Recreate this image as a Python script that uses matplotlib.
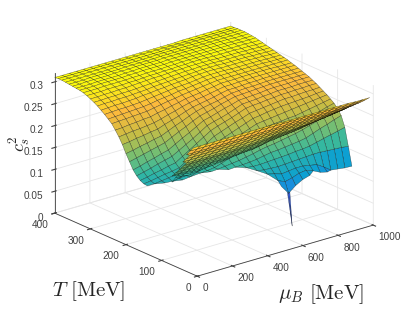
import matplotlib
matplotlib.use('Agg')
import matplotlib.pyplot as plt
from matplotlib.colors import LinearSegmentedColormap, Normalize
from mpl_toolkits.mplot3d.art3d import Poly3DCollection

plt.rcParams['font.family'] = ['Liberation Sans', 'DejaVu Sans']
plt.rcParams['mathtext.fontset'] = 'cm'
plt.rcParams['grid.color'] = '#e6e6e6'
plt.rcParams['grid.linewidth'] = 0.6

n = float('nan')

mu_values = [0, 40, 80, 120, 160, 200, 240, 280, 320, 360, 400, 440, 480, 520, 560, 600, 640, 680, 720, 760, 800, 840, 880, 920, 960, 1000]

# c_s^2 x 1000, main sheet, rows go with t_main
t_main = [400, 390, 380, 370, 360, 350, 340, 330, 320, 310, 300, 290, 280, 270, 260, 250, 240, 230, 220, 210, 200, 190, 180, 170, 160, 150, 140, 130, 120, 110, 100, 90, 80, 70, 60, 50, 40]
z_main = [
    [310,310,310,310,310,310,310,310,310,310,310,310,310,310,310,310,310,310,311,311,311,311,311,311,311,311],
    [311,311,311,311,311,311,311,311,311,311,311,311,311,311,311,311,311,311,311,311,311,311,311,311,311,311],
    [311,311,311,311,311,311,311,311,311,311,311,311,311,311,311,312,312,312,312,312,312,312,312,312,312,312],
    [310,310,310,310,310,310,310,311,311,311,311,311,311,312,312,312,312,312,312,312,312,312,312,312,312,312],
    [309,309,309,310,310,310,310,310,311,311,311,311,311,312,312,312,312,312,312,312,312,312,312,312,312,312],
    [308,308,309,309,309,309,310,310,310,311,311,311,311,312,312,312,312,312,312,312,312,312,312,311,311,311],
    [307,307,307,308,308,308,308,309,309,310,310,310,310,311,311,311,311,311,311,311,311,311,310,310,310,310],
    [306,306,306,307,307,307,307,308,308,309,309,309,309,310,310,310,310,310,310,310,310,310,310,309,309,309],
    [304,304,304,305,305,305,305,306,306,307,307,307,308,308,309,309,309,309,309,309,309,308,308,308,307,307],
    [301,301,301,302,302,302,303,303,304,305,305,306,306,307,307,308,308,308,307,307,307,307,306,306,305,305],
    [297,297,298,298,299,299,300,301,302,303,303,304,305,305,306,306,306,306,305,305,305,305,304,304,303,303],
    [293,293,294,294,295,295,296,297,298,299,300,301,302,303,303,304,304,304,303,303,303,303,302,302,301,301],
    [288,289,289,290,290,291,292,293,295,296,297,298,299,300,301,302,302,302,301,301,301,301,300,300,299,299],
    [282,283,284,284,285,286,288,289,291,292,294,295,296,298,299,300,300,299,299,299,299,299,298,298,297,297],
    [276,277,278,278,279,280,282,284,286,288,290,291,292,294,296,297,297,297,296,296,296,296,296,295,295,295],
    [269,270,271,272,273,274,276,279,281,283,286,287,289,291,293,294,294,294,294,294,294,294,294,293,293,293],
    [262,263,264,265,266,267,270,273,276,278,281,283,285,287,289,291,291,291,291,291,291,291,291,291,291,291],
    [251,252,254,255,257,258,262,265,269,272,276,278,280,283,285,288,288,288,289,289,289,289,289,288,288,288],
    [239,241,243,244,246,248,252,257,261,266,270,273,275,278,281,284,284,285,285,286,286,286,286,286,286,286],
    [225,227,230,232,235,237,243,248,253,259,264,267,270,273,277,280,280,281,282,282,283,283,283,283,283,283],
    [208,211,215,218,222,225,232,239,245,252,258,262,265,268,272,276,277,278,278,279,280,280,280,280,280,280],
    [193,197,201,205,209,213,221,229,236,244,251,255,259,264,268,272,273,274,275,276,277,277,277,277,277,277],
    [178,182,187,191,196,200,209,218,226,235,244,248,253,258,262,267,268,269,270,272,273,273,273,274,274,274],
    [168,172,176,181,185,189,198,207,216,226,236,241,245,250,256,262,263,264,266,267,269,269,269,270,270,270],
    [161,164,168,171,175,178,188,198,208,218,228,234,239,244,250,256,258,259,261,262,264,264,265,265,266,266],
    [157,159,162,165,167,170,180,190,199,209,219,225,231,237,242,248,250,252,254,256,258,258,259,260,260,261],
    [156,156,158,160,163,165,174,183,192,201,210,216,222,228,234,240,242,245,247,249,250,251,252,253,255,256],
    [n,n,157,156,158,160,168,176,184,193,201,207,213,219,225,231,233,235,237,239,241,243,245,247,249,251],
    [n,n,n,n,158,160,166,170,176,184,192,198,204,210,216,222,224,226,227,229,230,233,236,239,242,245],
    [n,n,n,n,n,n,168,169,171,176,182,186,190,195,200,206,208,210,212,215,217,221,225,230,235,239],
    [n,n,n,n,n,n,n,170,171,173,175,177,180,183,187,190,192,195,198,201,205,210,215,220,225,230],
    [n,n,n,n,n,n,n,n,n,169,170,171,172,174,177,180,181,183,185,187,190,196,202,207,213,218],
    [n,n,n,n,n,n,n,n,n,n,n,168,166,166,167,168,169,170,172,173,175,179,183,187,191,195],
    [n,n,n,n,n,n,n,n,n,n,n,n,160,157,156,155,156,157,158,159,160,160,159,158,157,155],
    [n,n,n,n,n,n,n,n,n,n,n,n,n,151,147,142,144,146,146,143,140,130,118,116,114,113],
    [n,n,n,n,n,n,n,n,n,n,n,n,n,n,135,128,132,138,140,134,126,122,n,n,n,n],
    [n,n,n,n,n,n,n,n,n,n,n,n,n,n,125,105,118,127,132,n,n,n,n,n,n,n],
]

# second branch, the flap up to the ridge at low T
t_flap = [130, 120, 115, 110, 105, 100, 95, 90, 85, 80, 75, 70, 60, 50, 40, 30, 20, 10]
z_flap = [
    [n,n,n,154,160,n,n,n,n,n,n,n,n,n,n,n,n,n,n,n,n,n,n,n,n,n],
    [n,n,n,168,168,165,167,169,n,n,n,n,n,n,n,n,n,n,n,n,n,n,n,n,n,n],
    [n,n,n,174,174,172,172,173,n,n,n,n,n,n,n,n,n,n,n,n,n,n,n,n,n,n],
    [n,n,180,180,179,178,178,178,178,180,182,185,187,189,n,n,n,n,n,n,n,n,n,n,n,n],
    [n,n,185,185,184,184,184,184,184,185,186,188,190,191,n,n,n,n,n,n,n,n,n,n,n,n],
    [n,n,191,191,190,190,190,190,190,190,191,192,193,194,197,200,202,205,207,210,212,n,n,n,n,n],
    [n,n,196,196,195,195,195,195,195,195,196,197,198,199,201,205,206,208,210,212,215,n,n,n,n,n],
    [n,n,202,202,201,201,201,201,201,201,202,202,203,204,206,210,211,212,213,215,218,222,224,226,228,230],
    [n,n,207,207,207,207,207,207,207,207,208,208,209,210,212,215,216,217,218,220,222,225,227,229,231,233],
    [n,n,213,213,213,213,213,213,213,213,214,214,215,216,218,220,221,222,223,225,226,228,230,232,235,237],
    [n,n,218,218,218,218,218,218,218,218,219,219,220,221,223,225,226,226,227,229,230,232,234,236,238,240],
    [n,n,224,224,224,224,224,224,224,224,225,225,226,227,228,230,231,231,232,233,234,236,238,240,242,244],
    [n,235,235,235,235,235,235,235,235,235,236,236,237,238,239,240,241,241,242,242,243,245,246,248,250,251],
    [n,246,246,246,246,246,246,246,246,246,247,247,248,248,249,250,250,251,251,251,252,253,254,255,257,258],
    [n,257,257,257,257,257,257,257,257,257,258,258,258,259,259,260,260,260,261,261,261,262,263,264,264,265],
    [267,267,267,267,267,267,267,267,267,267,268,268,268,269,269,270,270,270,270,270,270,270,271,271,272,272],
    [279,279,279,279,279,279,279,279,279,279,280,280,280,280,280,280,280,280,280,280,280,280,280,280,280,280],
    [290,290,290,290,290,290,290,290,290,290,290,290,290,289,289,289,289,289,289,289,289,289,289,288,288,288],
]

# narrow dip at mu_B about 600
mu_spike = [593, 600, 607]
t_spike = [40, 30]
z_spike = [
    [108, 105, 108],
    [n, 34, n],
]

mu_ticks = [0, 200, 400, 600, 800, 1000]
t_ticks = [0, 100, 200, 300, 400]
z_ticks = [0, 0.05, 0.1, 0.15, 0.2, 0.25, 0.3]
z_ticklabels = ['0', '0.05', '0.1', '0.15', '0.2', '0.25', '0.3']

parula = LinearSegmentedColormap.from_list('parula', [
    (0.24, 0.15, 0.66), (0.28, 0.34, 0.97), (0.16, 0.47, 0.93), (0.05, 0.63, 0.82),
    (0.20, 0.72, 0.63), (0.50, 0.75, 0.42), (0.80, 0.74, 0.26), (0.99, 0.73, 0.24),
    (0.98, 0.98, 0.05)])
norm = Normalize(0.03, 0.31)


def cells(mus, t_rows, table):
    polys = []
    for i in range(len(t_rows) - 1):
        for j in range(len(mus) - 1):
            corners = [(i, j), (i, j + 1), (i + 1, j + 1), (i + 1, j)]
            pts = [(mus[b], t_rows[a], table[a][b] / 1000) for a, b in corners if table[a][b] == table[a][b]]
            if len(pts) >= 3:
                polys.append(pts)
    return polys


fig = plt.figure(figsize=(4.15, 3.11), dpi=100)
ax = fig.add_axes([0.0035, -0.0957, 1.0, 1.2], projection='3d', proj_type='ortho')
ax.view_init(elev=21, azim=231)
ax.set_box_aspect((1, 1, 0.662), zoom=0.92)

polys = cells(mu_values, t_main, z_main) + cells(mu_values, t_flap, z_flap) + cells(mu_spike, t_spike, z_spike)
colors = [parula(norm(sum(p[2] for p in poly) / len(poly))) for poly in polys]
surf = Poly3DCollection(polys, facecolors=colors, edgecolors=(0, 0, 0, 0.6), linewidths=0.3, zsort='average')
ax.add_collection3d(surf)

ax.set_xlim(0, 1000)
ax.set_ylim(0, 400)
ax.set_zlim(0, 0.32)
ax.set_xticks(mu_ticks)
ax.set_yticks(t_ticks)
ax.set_zticks(z_ticks)
ax.set_zticklabels(z_ticklabels)
ax.tick_params(labelsize=7.2, colors='#404040', pad=-3)
for label in ax.get_xticklabels():
    label.set_ha('left')
for label in ax.get_yticklabels():
    label.set_ha('right')
for label in ax.get_zticklabels():
    label.set_ha('right')
for axis in (ax.xaxis, ax.yaxis, ax.zaxis):
    axis.set_pane_color((1, 1, 1, 1))
    axis.pane.set_edgecolor((1, 1, 1, 0))
    axis.line.set_color('#404040')
    axis.line.set_linewidth(0.6)

fig.text(52 / 415, 1 - 296 / 311, r'$T\ [\mathrm{MeV}]$', fontsize=15, color='#262626')
fig.text(278 / 415, 1 - 299 / 311, r'$\mu_B\ [\mathrm{MeV}]$', fontsize=15, color='#262626')
fig.text(8 / 415, 1 - 145 / 311, r'$c_s^2$', fontsize=13, color='#262626', rotation=90)

fig.savefig('out.png', dpi=100)
